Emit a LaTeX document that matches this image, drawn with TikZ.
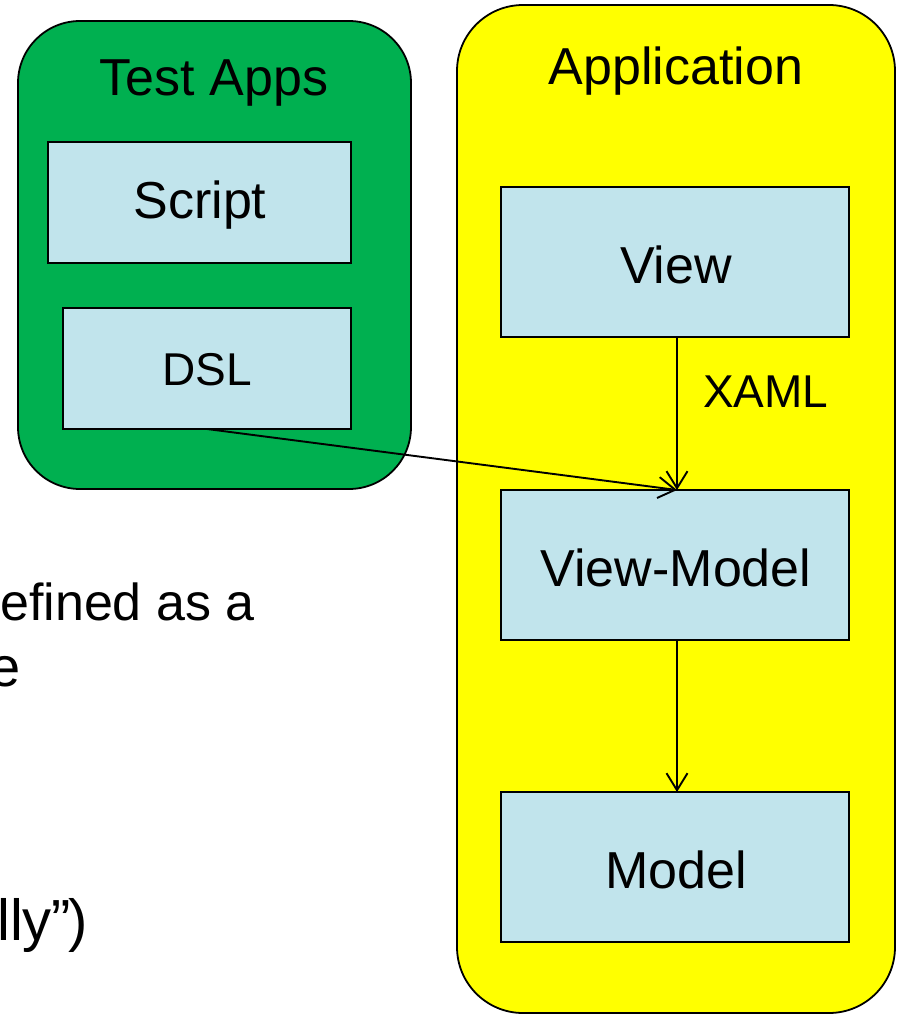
\documentclass[tikz,border=0pt]{standalone}
\usepackage{fontspec}
\setmainfont{Liberation Sans}
\usetikzlibrary{arrows.meta}
\definecolor{grpgreen}{RGB}{0,176,80}
\definecolor{grpyellow}{RGB}{255,255,0}
\definecolor{boxblue}{RGB}{193,228,236}
\newcommand{\fs}[1]{\fontsize{#1}{#1}\selectfont}
\begin{document}
\begin{tikzpicture}[x=1pt,y=-1pt,
  group/.style={draw=black, line width=1.8pt, rounded corners=62pt},
  block/.style={draw=black, line width=1.8pt, fill=boxblue},
  lbl/.style={inner sep=0pt, font=\fs{52}},
  conn/.style={line width=1.9pt, -{Straight Barb[length=17pt,width=21pt,line width=1.9pt]}}
]
\useasboundingbox (0,0) rectangle (899,1015);
\clip (0,0) rectangle (899,1015);

% background bullet text running in from the left
\node[lbl, anchor=base west] (t1) at (0,620) {efined as a};
\node[lbl, anchor=base east, font=\fs{56}] (t2) at (21,686) {e};
\node[lbl, anchor=base west, font=\fs{58}] (t3) at (-3,940) {lly”\kern-3pt)};

% groups
\draw[group, fill=grpgreen] (18,21) rectangle (411,489);
\draw[group, fill=grpyellow, rounded corners=66pt] (457,5) rectangle (895,1013);

\node[lbl] (testapps) at (214,83) {Test Apps};
\node[lbl] (application) at (676,71) {Application};

% components
\draw[block] (48,142) rectangle (351,263);
\node[lbl] (script) at (200,205) {Script};
\draw[block] (63,308) rectangle (351,429);
\node[lbl, font=\fs{46}] (dslt) at (207,370) {DSL};
\coordinate (dsl) at (207,429);

\draw[block] (501,187) rectangle (849,337);
\node[lbl] (view) at (676,265) {View};
\draw[block] (501,490) rectangle (849,640);
\node[lbl] (vm) at (676,568) {View-Model};
\draw[block] (501,792) rectangle (849,942);
\node[lbl] (model) at (676,870) {Model};

\coordinate (viewB) at (677,337);
\coordinate (vmT) at (677,490);
\coordinate (vmB) at (677,640);
\coordinate (modelT) at (677,792);

% connectors
\draw[conn] (viewB) -- (vmT);
\draw[conn] (vmB) -- (modelT);
\draw[conn] (dsl) -- (vmT);
\node[lbl, font=\fs{46}, anchor=west] (xaml) at (703,392) {XAML};
\end{tikzpicture}
\end{document}
